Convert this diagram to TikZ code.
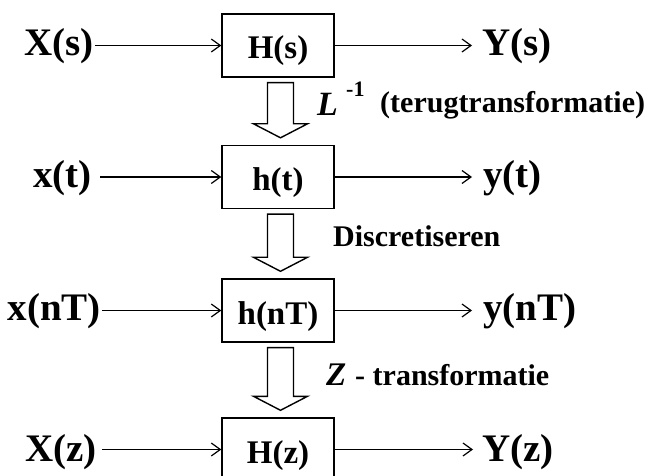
\documentclass[tikz,border=0pt]{standalone}
\usepackage{fontspec}
\setmainfont{Liberation Serif}
\usetikzlibrary{arrows.meta,calc}
\newcommand\hollowarr[2]{%
  \draw[hollow] ($(#1.south)+(-10.5,5)$) -- ($(#1.south)+(15.5,5)$)
    -- ($(#2.north)+(15.5,-21)$) -- ($(#2.north)+(29.5,-21)$)
    -- ($(#2.north)+(2.5,-7)$) -- ($(#2.north)+(-24.5,-21)$)
    -- ($(#2.north)+(-10.5,-21)$) -- cycle;}
\begin{document}
\begin{tikzpicture}[x=1pt,y=-1pt,
  box/.style={draw,line width=1.4pt,minimum width=112pt,minimum height=63pt,inner sep=0pt,
    text height=27pt,text depth=0pt,font=\fontsize{33}{33}\selectfont\bfseries},
  sig/.style={line width=1.2pt,-{Straight Barb[length=9pt,width=13pt,line width=1.2pt]}},
  outer/.style={inner sep=0pt,font=\fontsize{39}{39}\selectfont\bfseries},
  note/.style={inner sep=0pt,font=\fontsize{30}{30}\selectfont\bfseries},
  hollow/.style={draw,line width=1.4pt,fill=white,line join=miter}]
\useasboundingbox (0,0) rectangle (649,476);
\clip (0,0) rectangle (649,476);

% boxes
\node[box] (Hs)  at (278,45.5)  {H(s)};
\node[box] (ht)  at (278,177)   {h(t)};
\node[box] (hnT) at (278,310.5) {h(nT)};
\node[box] (Hz)  at (278,449.5) {H(z)};

% inputs
\node[outer,anchor=base east] (Xs)  at (94,56)   {X(s)};
\node[outer,anchor=base east] (xt)  at (92,188)  {x(t)};
\node[outer,anchor=base east] (xnT) at (101,321) {x(nT)};
\node[outer,anchor=base east] (Xz)  at (97,461)  {X(z)};

% outputs
\node[outer,anchor=base west] (Ys)  at (482,56)  {Y(s)};
\node[outer,anchor=base west] (yt)  at (483,188) {y(t)};
\node[outer,anchor=base west] (ynT) at (483,321) {y(nT)};
\node[outer,anchor=base west] (Yz)  at (482,461) {Y(z)};

% signal arrows
\draw[sig] ([xshift=1pt]Xs.east |- Hs.west) -- (Hs.west);
\draw[sig] ([xshift=8pt]xt.east |- ht.west) -- (ht.west);
\draw[sig] ([xshift=1pt]xnT.east |- hnT.west) -- (hnT.west);
\draw[sig] ([xshift=5pt]Xz.east |- Hz.west) -- (Hz.west);
\draw[sig] (Hs.east) -- ([xshift=-10pt]Ys.west |- Hs.east);
\draw[sig] (ht.east) -- ([xshift=-11pt]yt.west |- ht.east);
\draw[sig] (hnT.east) -- ([xshift=-11pt]ynT.west |- hnT.east);
\draw[sig] (Hz.east) -- ([xshift=-9pt]Yz.west |- Hz.east);

% transformation arrows
\hollowarr{Hs}{ht}
\hollowarr{ht}{hnT}
\hollowarr{hnT}{Hz}

% annotations
\node[inner sep=0pt,anchor=base west,font=\fontsize{34}{34}\selectfont\bfseries\itshape] (L) at (317,116) {L};
\node[inner sep=0pt,anchor=base west,font=\fontsize{22}{22}\selectfont\bfseries] (Lsup) at (346,97) {-1};
\node[note,anchor=base west] (terug) at (380,113) {(terugtransformatie)};
\node[note,anchor=base west] (disc) at (333,247) {Discretiseren};
\node[inner sep=0pt,anchor=base west,font=\fontsize{33}{33}\selectfont\bfseries\itshape] (Z) at (326,385) {Z};
\node[note,anchor=base west] (ztr) at (355,385) {- transformatie};
\end{tikzpicture}
\end{document}
